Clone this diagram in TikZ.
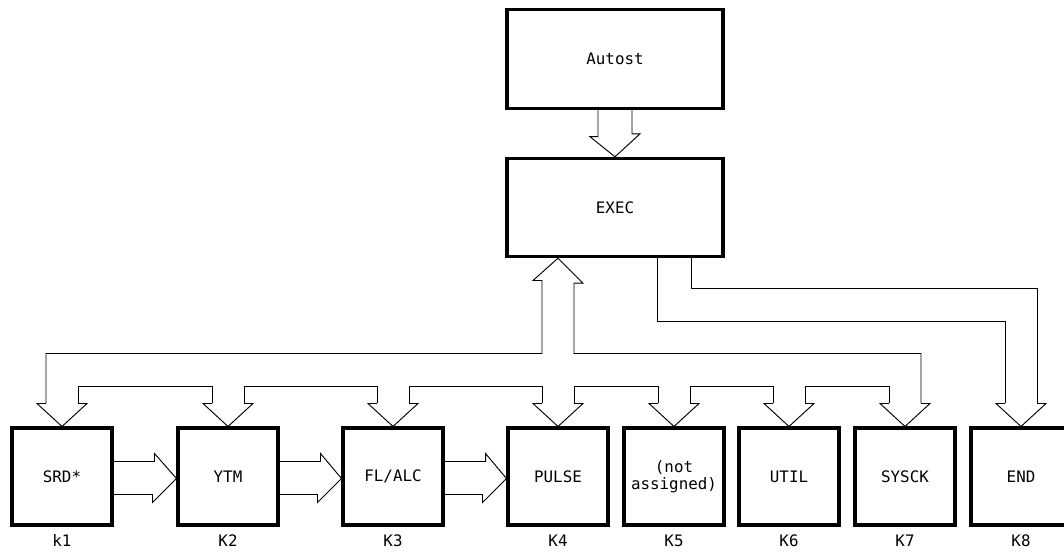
\documentclass[tikz,border=0pt]{standalone}
\usepackage{fontspec}
\usepackage{tikz}
\usetikzlibrary{calc,positioning}
\newfontfamily\termfont{DejaVu Sans Mono}
\tikzstyle{block} = [draw, line width=2.6pt, rectangle, inner sep=0pt, minimum width=3cm, minimum height=2.91cm, font=\termfont\fontsize{13.5}{15}\selectfont, align=center]
\tikzstyle{bigblock} = [block, minimum width=6.48cm, minimum height=2.95cm]
\tikzstyle{tag} = [font=\termfont\fontsize{13.5}{15}\selectfont, inner sep=1pt, text height=10pt, text depth=2pt]
\tikzstyle{pipe} = [line width=0.8pt, line join=miter]

\begin{document}
\begin{tikzpicture}[x=0.03cm, y=-0.03cm]
        \clip (0,0) rectangle (1064,552);
        % Node positions
        \node[bigblock] (autost) at (615,59) {Autost};
        \node[bigblock] (exec) at (615,207.5) {EXEC};
        \node[block] (k1) at (62,476.5) {SRD*};
        \node[block] (k2) at (228,476.5) {YTM};
        \node[block] (k3) at (393,476.5) {FL/ALC};
        \node[block] (k4) at (558,476.5) {PULSE};
        \node[block] (k5) at (674,476.5) {(not\\assigned)};
        \node[block] (k6) at (789,476.5) {UTIL};
        \node[block] (k7) at (905,476.5) {SYSCK};
        \node[block] (k8) at (1021,476.5) {END};

        \node[tag, below=0.22cm of k1] (t1) {k1};
        \node[tag, below=0.22cm of k2] (t2) {K2};
        \node[tag, below=0.22cm of k3] (t3) {K3};
        \node[tag, below=0.22cm of k4] (t4) {K4};
        \node[tag, below=0.22cm of k5] (t5) {K5};
        \node[tag, below=0.22cm of k6] (t6) {K6};
        \node[tag, below=0.22cm of k7] (t7) {K7};
        \node[tag, below=0.22cm of k8] (t8) {K8};

        % Autost to EXEC
        \draw[pipe] ($(autost.south)+(-17,0)$) -- ++(0,27) -- ++(-8,0) -- (exec.north)
          -- ++(25,-23) -- ++(-8,0) -- ($(autost.south)+(17,0)$);

        % heads into the lower row
        \foreach \k in {k1,k2,k3,k4,k5,k6,k7,k8}
          \draw[pipe] ($(\k.north)+(-16,-23)$) -- ++(-9,0) -- (\k.north) -- ++(25,-23) -- ++(-9,0);

        % bus between EXEC and k1 ... k7
        \draw[pipe] ($(k1.north)+(-16,-23)$) |- ($(k4.north)+(-16,-73)$) -- ++(0,-73) -- ++(-9,0)
          -- (k4.north |- exec.south) -- ++(25,25) -- ++(-9,0) |- ($(k7.north)+(16,-73)$) -- ++(0,50);
        \foreach \a/\b in {k1/k2,k2/k3,k3/k4,k4/k5,k5/k6,k6/k7}
          \draw[pipe] ($(\a.north)+(16,-23)$) |- ($(\b.north)+(-16,-40)$) -- ++(0,17);

        % EXEC to END
        \draw[pipe] ($(exec.south east)+(-67,0)$) |- ($(k8.north)+(-16,-105)$) -- ++(0,82);
        \draw[pipe] ($(exec.south east)+(-33,0)$) |- ($(k8.north)+(16,-138)$) -- ++(0,115);

        % k1 -> K2 -> K3 -> K4
        \foreach \a/\b in {k1/k2,k2/k3,k3/k4}
          \draw[pipe] ($(\a.east)+(0,-15)$) -- ++(41,0) -- ++(0,-8) -- ($(\b.west)+(0,2)$)
            -- ++(-24,24) -- ++(0,-8) -- ($(\a.east)+(0,18)$);
      \end{tikzpicture}
\end{document}
